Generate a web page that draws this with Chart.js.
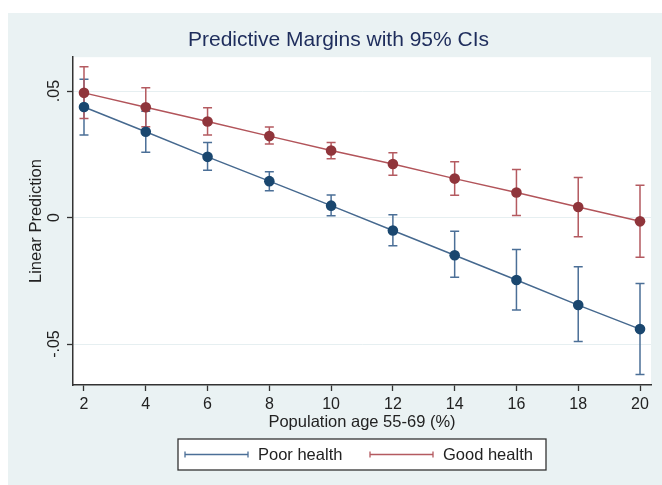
<!DOCTYPE html>
<html>
<head>
<meta charset="utf-8">
<script src="https://cdn.jsdelivr.net/npm/chart.js@4.4.0/dist/chart.umd.min.js"></script>
<style>
  html, body { margin: 0; padding: 0; background: #fff; }
  #wrap { position: absolute; left: 8px; top: 13px; width: 654px; height: 472px; background: #eaf2f3; }
</style>
</head>
<body>
<div id="wrap"><canvas id="margins"></canvas></div>
<script>
// datos
const ages = [2, 4, 6, 8, 10, 12, 14, 16, 18, 20]
const poorHealth = [0.0437, 0.0339, 0.0240, 0.0144, 0.0047, -0.0051, -0.0149, -0.0247, -0.0346, -0.0441]
const poorLow = [0.0326, 0.0258, 0.0187, 0.0106, 0.0007, -0.0111, -0.0236, -0.0365, -0.0490, -0.0620]
const poorHigh = [0.0547, 0.0420, 0.0297, 0.0181, 0.0089, 0.0011, -0.0054, -0.0126, -0.0194, -0.0261]
const goodHealth = [0.0493, 0.0436, 0.0380, 0.0322, 0.0265, 0.0212, 0.0154, 0.0099, 0.0042, -0.0015]
const goodLow = [0.0392, 0.0359, 0.0326, 0.0291, 0.0233, 0.0167, 0.0088, 0.0008, -0.0076, -0.0157]
const goodHigh = [0.0596, 0.0513, 0.0434, 0.0358, 0.0297, 0.0256, 0.0221, 0.0190, 0.0158, 0.0128]
const yTicks = [-0.05, 0, 0.05]
const yTickLabels = ['-.05', '0', '.05']

const FONT = "'Liberation Sans', Arial, sans-serif"
const INK = '#222'

// fondo blanco solo en la zona del grafico
const plotBackground = {
    id: 'plotBackground',
    beforeDraw(chart) {
        const { ctx, chartArea: a } = chart
        ctx.save()
        ctx.fillStyle = '#fff'
        ctx.fillRect(a.left, a.top, a.right - a.left, a.bottom - a.top)
        ctx.restore()
    }
}

// intervalos de confianza con sus topes
const errorBars = {
    id: 'errorBars',
    beforeDatasetsDraw(chart) {
        const { ctx, scales: { x, y } } = chart
        ctx.save()
        ctx.lineWidth = 1.5
        chart.data.datasets.forEach(ds => {
            ctx.strokeStyle = ds.ciColor
            ds.data.forEach((p, i) => {
                const px = x.getPixelForValue(p.x)
                const lo = y.getPixelForValue(ds.lower[i])
                const hi = y.getPixelForValue(ds.upper[i])
                ctx.beginPath()
                ctx.moveTo(px, lo); ctx.lineTo(px, hi)
                ctx.moveTo(px - 4.5, lo); ctx.lineTo(px + 4.5, lo)
                ctx.moveTo(px - 4.5, hi); ctx.lineTo(px + 4.5, hi)
                ctx.stroke()
            })
        })
        ctx.restore()
    }
}

// leyenda en caja, debajo del eje x
const boxLegend = {
    id: 'boxLegend',
    afterDraw(chart) {
        const { ctx, chartArea: a } = chart
        const w = 368, h = 31
        const left = (a.left + a.right) / 2 - w / 2
        const top = a.bottom + 54
        ctx.save()
        ctx.fillStyle = '#fff'
        ctx.fillRect(left, top, w, h)
        ctx.strokeStyle = '#333'
        ctx.lineWidth = 1.3
        ctx.strokeRect(left, top, w, h)
        const my = top + h / 2
        const offsets = [7, 192]
        chart.data.datasets.forEach((ds, i) => {
            const sx = left + offsets[i]
            ctx.strokeStyle = ds.ciColor
            ctx.lineWidth = 1.3
            ctx.beginPath()
            ctx.moveTo(sx, my); ctx.lineTo(sx + 63, my)
            ctx.moveTo(sx, my - 3); ctx.lineTo(sx, my + 3)
            ctx.moveTo(sx + 63, my - 3); ctx.lineTo(sx + 63, my + 3)
            ctx.stroke()
            ctx.fillStyle = INK
            ctx.font = '16.5px ' + FONT
            ctx.textBaseline = 'middle'
            ctx.fillText(ds.label, sx + 73, my + 1)
        })
        ctx.restore()
    }
}

const renderMarginsChart = () => {
    const data = {
        datasets: [{
            label: 'Poor health',
            data: ages.map((a, i) => ({ x: a, y: poorHealth[i] })),
            lower: poorLow,
            upper: poorHigh,
            ciColor: '#4b6f97',
            borderColor: '#46698f',
            pointBackgroundColor: '#1a476f',
            order: 2
        }, {
            label: 'Good health',
            data: ages.map((a, i) => ({ x: a, y: goodHealth[i] })),
            lower: goodLow,
            upper: goodHigh,
            ciColor: '#b45a60',
            borderColor: '#b2545a',
            pointBackgroundColor: '#90353b',
            order: 1
        }]
    }
    const options = {
        responsive: true,
        maintainAspectRatio: false,
        animation: false,
        layout: { padding: { left: 18, right: 11, top: 0, bottom: 50 } },
        elements: {
            line: { borderWidth: 1.5, tension: 0 },
            point: { radius: 5.3, borderWidth: 0, hoverRadius: 5.3 }
        },
        plugins: {
            legend: { display: false },
            tooltip: { enabled: false },
            title: {
                display: true,
                text: 'Predictive Margins with 95% CIs',
                color: '#1e2d5c',
                font: { family: FONT, size: 21, weight: 'normal' },
                padding: { top: 15, bottom: 4 }
            }
        },
        scales: {
            x: {
                type: 'linear',
                min: 1.644,
                max: 20.356,
                afterBuildTicks: axis => { axis.ticks = ages.map(v => ({ value: v })) },
                afterFit: axis => { axis.height = 50 },
                ticks: { color: INK, font: { family: FONT, size: 16 }, padding: 4, maxRotation: 0, autoSkip: false },
                grid: { drawOnChartArea: false, tickLength: 6, tickColor: '#333', tickWidth: 1.3 },
                border: { color: '#333', width: 1.5 },
                title: {
                    display: true,
                    text: 'Population age 55-69 (%)',
                    color: INK,
                    font: { family: FONT, size: 16.5 },
                    padding: { top: 0, bottom: 3 }
                }
            },
            y: {
                type: 'linear',
                min: -0.0662,
                max: 0.0634,
                afterBuildTicks: axis => { axis.ticks = yTicks.map(v => ({ value: v })) },
                afterFit: axis => { axis.width = 47 },
                ticks: {
                    color: INK,
                    font: { family: FONT, size: 16 },
                    minRotation: 90,
                    maxRotation: 90,
                    crossAlign: 'center',
                    padding: -1,
                    callback: v => yTickLabels[yTicks.indexOf(v)]
                },
                grid: { color: '#e6eff1', lineWidth: 1, tickLength: 6, tickColor: '#333', tickWidth: 1.3 },
                border: { color: '#333', width: 1.5 },
                title: {
                    display: true,
                    text: 'Linear Prediction',
                    color: INK,
                    font: { family: FONT, size: 16.5 },
                    padding: { top: 1, bottom: 0 }
                }
            }
        }
    }
    new Chart('margins', { type: 'line', data, options, plugins: [plotBackground, errorBars, boxLegend] })
}

renderMarginsChart()
</script>
</body>
</html>
